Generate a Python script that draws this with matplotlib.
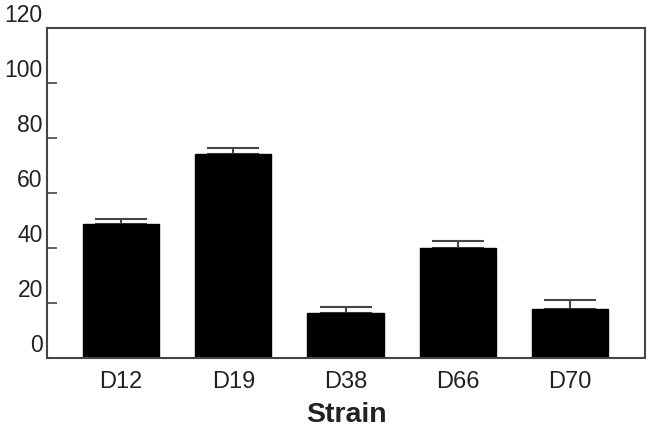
import matplotlib
matplotlib.use("Agg")
import matplotlib.pyplot as plt
import matplotlib.transforms as mtransforms

strains = ["D12", "D19", "D38", "D66", "D70"]
values = [48.8, 74.1, 16.4, 40.1, 17.8]
errors = [1.8, 2.2, 2.2, 2.3, 3.1]
yticks = [0, 20, 40, 60, 80, 100, 120]

plt.rcParams['font.family'] = ['Liberation Sans', 'DejaVu Sans']

fig = plt.figure(figsize=(6.53, 4.30), dpi=100)
ax = fig.add_axes([0.072, 0.1674, 0.916, 0.7686])

x = list(range(len(strains)))
ax.bar(x, values, width=0.68, color='black', edgecolor='black', zorder=2)
ax.errorbar(x, values, yerr=[[0]*len(errors), errors], fmt='none',
            ecolor='#444444', elinewidth=1.5, capsize=19, capthick=1.5, zorder=1)

ax.set_xlim(-0.66, 4.67)
ax.set_ylim(0, 120)
ax.set_yticks(yticks)
ax.set_yticklabels([str(v) for v in yticks], fontsize=16.5, color='#222222')
ax.set_xticks(x)
ax.set_xticklabels(strains, fontsize=17, color='#222222')
ax.tick_params(axis='y', direction='in', length=7, width=1.2, color='#444444', pad=3)
ax.tick_params(axis='x', length=0, pad=9)

offset = mtransforms.ScaledTranslation(0, 0.15, fig.dpi_scale_trans)
for lbl in ax.get_yticklabels():
    lbl.set_transform(lbl.get_transform() + offset)

for s in ax.spines.values():
    s.set_color('#444444')
    s.set_linewidth(1.5)

ax.set_xlabel("Strain", fontsize=20.5, fontweight='bold', labelpad=6.5, color='#222222')

fig.savefig("out.png", dpi=100)
